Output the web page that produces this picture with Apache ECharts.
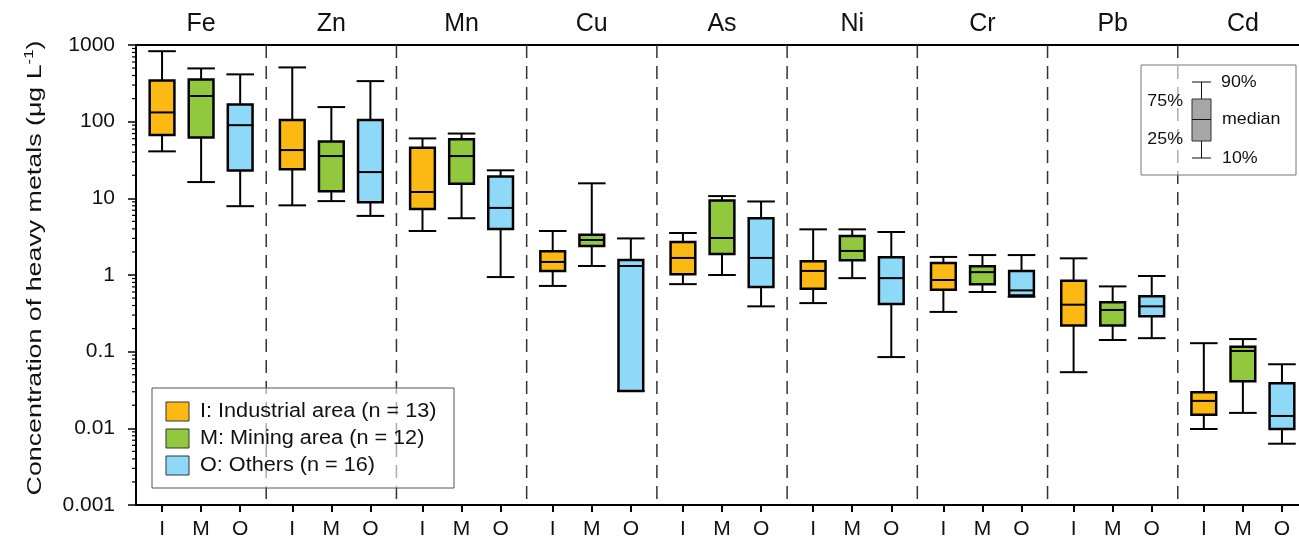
<!DOCTYPE html>
<html>
<head>
<meta charset="utf-8">
<script src="https://cdn.jsdelivr.net/npm/echarts@6/dist/echarts.min.js"></script>
<style>
html,body{margin:0;padding:0;background:#fff;overflow:hidden;}
#chart{width:1299px;height:537px;}
</style>
</head>
<body>
<div id="chart"></div>
<script>
const metals = ['Fe','Zn','Mn','Cu','As','Ni','Cr','Pb','Cd'];
const regionLetters = ['I','M','O'];
const regionNames = ['I: Industrial area (n = 13)','M: Mining area (n = 12)','O: Others (n = 16)'];
const regionColors = ['#FDB913','#92C83E','#8ED8F8'];
// each entry: [p10, q1, median, q3, p90]
const industrial = [
  [41, 67, 132, 345, 830],
  [8.1, 23.9, 42.6, 105, 510],
  [3.75, 7.25, 12.1, 45.8, 60.5],
  [0.72, 1.13, 1.48, 2.04, 3.75],
  [0.76, 1.02, 1.67, 2.69, 3.53],
  [0.43, 0.66, 1.13, 1.51, 3.94],
  [0.33, 0.64, 0.86, 1.43, 1.72],
  [0.054, 0.22, 0.41, 0.84, 1.65],
  [0.0098, 0.015, 0.0228, 0.0296, 0.129]
];
const mining = [
  [16.3, 62, 216, 356, 495],
  [9.2, 12.4, 35.6, 55, 155],
  [5.5, 15.5, 35.6, 58.8, 70],
  [1.31, 2.39, 2.86, 3.36, 15.7],
  [1.0, 1.88, 3.04, 9.4, 10.7],
  [0.91, 1.56, 2.06, 3.23, 3.94],
  [0.60, 0.76, 1.09, 1.30, 1.82],
  [0.142, 0.22, 0.35, 0.44, 0.71],
  [0.0159, 0.041, 0.102, 0.116, 0.146]
];
const others = [
  [7.9, 23, 90, 168, 414],
  [5.9, 8.9, 22, 105, 338],
  [0.94, 3.98, 7.5, 19.2, 23.2],
  [0.0308, 0.0308, 1.31, 1.57, 3.0],
  [0.39, 0.70, 1.67, 5.5, 9.1],
  [0.085, 0.42, 0.91, 1.70, 3.64],
  [0.52, 0.54, 0.63, 1.13, 1.82],
  [0.15, 0.29, 0.39, 0.53, 0.97],
  [0.0063, 0.0098, 0.0145, 0.0387, 0.0685]
];
const insetLabels = ['90%','75%','median','25%','10%'];
const yTitle = 'Concentration of heavy metals (μg L';
const yTitleSup = '-1';
const yMin = 0.001, yMax = 1000;

const FONT = "'Liberation Sans', Arial, sans-serif";
const regionsData = [industrial, mining, others];
const GROUP = 10;
const posOf = (g, r) => g * GROUP + 2 + 3 * r;

const boxValues = [];
metals.forEach((m, g) => regionLetters.forEach((l, r) => boxValues.push(posOf(g, r))));
const sepValues = [];
for (let g = 1; g < metals.length; g++) sepValues.push(g * GROUP);

const minorTicks = [];
for (let e = -3; e < 3; e++) for (let k = 2; k <= 9; k++) minorTicks.push(+(k * Math.pow(10, e)).toPrecision(3));

function boxSeries(r) {
  return {
    type: 'custom',
    name: regionNames[r],
    xAxisIndex: 0, yAxisIndex: 0,
    dimensions: ['x','p10','q1','med','q3','p90'],
    encode: { x: 0, y: [1,2,3,4,5] },
    data: regionsData[r].map((d, g) => [posOf(g, r)].concat(d)),
    z: 5,
    renderItem: function (params, api) {
      const x = api.value(0);
      const c = v => api.coord([x, v]);
      const w = api.size([1.9, 1])[0];
      const cw = api.size([2.12, 1])[0];
      const pTop = c(api.value(5)), pQ3 = c(api.value(4)), pMed = c(api.value(3)), pQ1 = c(api.value(2)), pBot = c(api.value(1));
      const cx = pMed[0];
      const ls = { stroke: '#000', lineWidth: 2 };
      return {
        type: 'group',
        children: [
          { type: 'line', shape: { x1: cx, y1: pTop[1], x2: cx, y2: pQ3[1] }, style: ls },
          { type: 'line', shape: { x1: cx, y1: pQ1[1], x2: cx, y2: pBot[1] }, style: ls },
          { type: 'line', shape: { x1: cx - cw / 2, y1: pTop[1], x2: cx + cw / 2, y2: pTop[1] }, style: ls },
          { type: 'line', shape: { x1: cx - cw / 2, y1: pBot[1], x2: cx + cw / 2, y2: pBot[1] }, style: ls },
          { type: 'rect', shape: { x: cx - w / 2, y: pQ3[1], width: w, height: pQ1[1] - pQ3[1] },
            style: { fill: regionColors[r], stroke: '#000', lineWidth: 2.5 } },
          { type: 'line', shape: { x1: cx - w / 2, y1: pMed[1], x2: cx + w / 2, y2: pMed[1] }, style: ls }
        ]
      };
    }
  };
}

const gfx = [];
// y-axis title (stretched along its length to match the reference)
gfx.push({
  type: 'text', x: 35, y: 268, rotation: Math.PI / 2, scaleX: 1.34, scaleY: 1, z: 50,
  style: {
    text: '{a|' + yTitle + '}{s|' + yTitleSup + '}{a|)}',
    align: 'center', verticalAlign: 'middle',
    rich: {
      a: { fontSize: 20, fill: '#111', fontFamily: FONT },
      s: { fontSize: 12.5, fill: '#111', fontFamily: FONT, padding: [0, 0, 10, 0] }
    }
  }
});
// region legend
gfx.push({ type: 'rect', z: 100, shape: { x: 152, y: 388, width: 302, height: 100 },
  style: { fill: 'rgba(255,255,255,0.6)', stroke: '#555', lineWidth: 1 } });
regionNames.forEach((n, i) => {
  gfx.push({ type: 'rect', z: 101, shape: { x: 166, y: 402 + 27 * i, width: 23, height: 19 },
    style: { fill: regionColors[i], stroke: '#333', lineWidth: 1 } });
  gfx.push({ type: 'text', z: 101, x: 200, y: 412 + 27 * i, scaleX: 1.11,
    style: { text: n, font: '19.5px ' + FONT, fill: '#111', verticalAlign: 'middle' } });
});
// inset legend
gfx.push({ type: 'rect', z: 100, shape: { x: 1141, y: 65, width: 155, height: 110 },
  style: { fill: 'rgba(255,255,255,0.6)', stroke: '#777', lineWidth: 1 } });
const iL = { stroke: '#111', lineWidth: 1 };
gfx.push({ type: 'line', z: 101, shape: { x1: 1201.5, y1: 82, x2: 1201.5, y2: 158 }, style: iL });
gfx.push({ type: 'line', z: 101, shape: { x1: 1192, y1: 82, x2: 1211, y2: 82 }, style: iL });
gfx.push({ type: 'line', z: 101, shape: { x1: 1192, y1: 158, x2: 1211, y2: 158 }, style: iL });
gfx.push({ type: 'rect', z: 102, shape: { x: 1192, y: 99, width: 19, height: 42 },
  style: { fill: '#A6A6A6', stroke: '#333', lineWidth: 1 } });
gfx.push({ type: 'line', z: 103, shape: { x1: 1192, y1: 119.5, x2: 1211, y2: 119.5 }, style: iL });
const insetPos = [[1221, 82, 'left'], [1183, 101, 'right'], [1222, 119, 'left'], [1183, 139, 'right'], [1222, 158, 'left']];
insetLabels.forEach((t, i) => {
  gfx.push({ type: 'text', z: 103, x: insetPos[i][0], y: insetPos[i][1], scaleX: 1.08,
    style: { text: t, font: '16.5px ' + FONT, fill: '#111', align: insetPos[i][2], verticalAlign: 'middle' } });
});

const chart = echarts.init(document.getElementById('chart'), null, { renderer: 'canvas' });
chart.setOption({
  animation: false,
  backgroundColor: '#fff',
  textStyle: { fontFamily: FONT },
  grid: { left: 136, top: 45, bottom: 32, width: 1172, containLabel: false, outerBoundsMode: 'none' },
  xAxis: [
    {
      type: 'value', min: 0, max: metals.length * GROUP, position: 'bottom',
      axisLine: { show: true, lineStyle: { color: '#000', width: 2 } },
      axisTick: { show: true, customValues: boxValues, length: 7, inside: false, lineStyle: { color: '#000', width: 2 } },
      axisLabel: { show: true, customValues: boxValues, fontSize: 21, color: '#111', margin: 14,
        formatter: v => regionLetters[Math.round(((v % GROUP) - 2) / 3)] },
      splitLine: { show: false }
    },
    {
      type: 'category', data: metals, position: 'top', boundaryGap: true,
      axisLine: { show: true, lineStyle: { color: '#000', width: 2 } },
      axisTick: { show: false },
      axisLabel: { fontSize: 25, color: '#111', margin: 8 },
      splitLine: { show: false }
    }
  ],
  yAxis: {
    type: 'log', logBase: 10, min: yMin, max: yMax, splitNumber: 6,
    axisLine: { show: true, lineStyle: { color: '#000', width: 2 } },
    axisTick: { show: true, length: 8, lineStyle: { color: '#000', width: 1.5 } },
    axisLabel: { fontSize: 21, color: '#111', margin: 21, formatter: v => String(+(+v).toPrecision(6)) },
    splitLine: { show: false }
  },
  series: [
    {
      type: 'custom', xAxisIndex: 0, yAxisIndex: 0, silent: true, z: 1,
      data: sepValues.map(v => [v]),
      encode: { x: 0 },
      renderItem: function (params, api) {
        const v = api.value(0);
        const t = api.coord([v, yMax]), b = api.coord([v, yMin]);
        return { type: 'line', shape: { x1: t[0], y1: t[1], x2: b[0], y2: b[1] },
          style: { stroke: '#333', lineWidth: 1.5, lineDash: [13, 8] } };
      }
    },
    {
      type: 'custom', xAxisIndex: 0, yAxisIndex: 0, silent: true, z: 1, clip: false,
      data: minorTicks.map(v => [0, v]),
      encode: { x: 0, y: 1 },
      renderItem: function (params, api) {
        const p = api.coord([0, api.value(1)]);
        return { type: 'line', shape: { x1: p[0] - 4, y1: p[1], x2: p[0], y2: p[1] },
          style: { stroke: '#000', lineWidth: 1.2 } };
      }
    },
    boxSeries(0), boxSeries(1), boxSeries(2)
  ],
  graphic: gfx
});
</script>
</body>
</html>
